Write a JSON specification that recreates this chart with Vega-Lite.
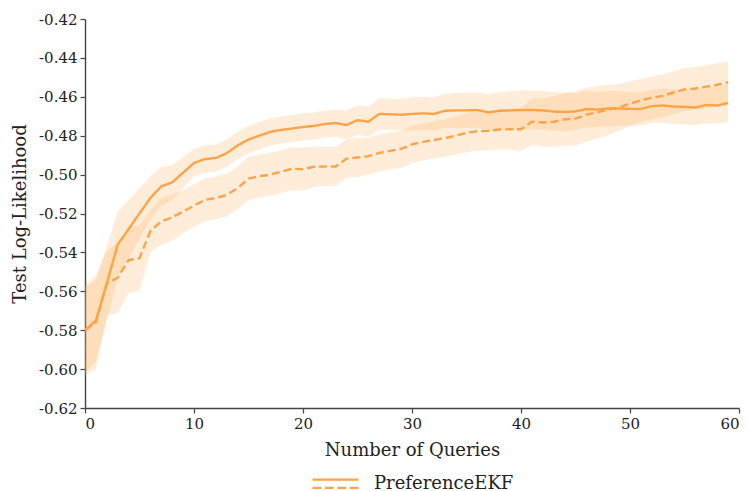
{
  "$schema": "https://vega.github.io/schema/vega-lite/v6.json",
  "width": 654,
  "height": 389,
  "autosize": {"type": "none"},
  "padding": {"left": 85, "top": 19, "right": 8, "bottom": 83},
  "background": "white",
  "config": {
    "view": {"stroke": null},
    "font": "DejaVu Serif",
    "axis": {
      "grid": false,
      "domainColor": "#444444",
      "domainWidth": 1.4,
      "tickColor": "#444444",
      "tickSize": 5,
      "tickWidth": 1.2,
      "labelFont": "DejaVu Serif",
      "labelFontSize": 15,
      "labelColor": "#222222",
      "titleFont": "DejaVu Serif",
      "titleFontSize": 18,
      "titleFontWeight": "normal",
      "titleColor": "#222222",
      "labelPadding": 3,
      "labelOverlap": false
    },
    "legend": {
      "labelFont": "DejaVu Serif",
      "labelFontSize": 18,
      "labelColor": "#222222"
    }
  },
  "data": {
    "values": [
      {"q":0,"s":"solid","m":-0.580,"lo":-0.602,"hi":-0.558},
      {"q":1,"s":"solid","m":-0.575,"lo":-0.596,"hi":-0.554},
      {"q":2,"s":"solid","m":-0.556,"lo":-0.575,"hi":-0.537},
      {"q":3,"s":"solid","m":-0.536,"lo":-0.553,"hi":-0.519},
      {"q":4,"s":"solid","m":-0.528,"lo":-0.543,"hi":-0.513},
      {"q":5,"s":"solid","m":-0.520,"lo":-0.533,"hi":-0.507},
      {"q":6,"s":"solid","m":-0.512,"lo":-0.523,"hi":-0.501},
      {"q":7,"s":"solid","m":-0.506,"lo":-0.516,"hi":-0.496},
      {"q":8,"s":"solid","m":-0.504,"lo":-0.513,"hi":-0.495},
      {"q":9,"s":"solid","m":-0.499,"lo":-0.507,"hi":-0.491},
      {"q":10,"s":"solid","m":-0.494,"lo":-0.501,"hi":-0.487},
      {"q":11,"s":"solid","m":-0.492,"lo":-0.499,"hi":-0.485},
      {"q":12,"s":"solid","m":-0.4915,"lo":-0.4985,"hi":-0.4845},
      {"q":13,"s":"solid","m":-0.489,"lo":-0.496,"hi":-0.482},
      {"q":14,"s":"solid","m":-0.485,"lo":-0.492,"hi":-0.478},
      {"q":15,"s":"solid","m":-0.482,"lo":-0.489,"hi":-0.475},
      {"q":16,"s":"solid","m":-0.480,"lo":-0.487,"hi":-0.473},
      {"q":17,"s":"solid","m":-0.478,"lo":-0.485,"hi":-0.471},
      {"q":18,"s":"solid","m":-0.477,"lo":-0.484,"hi":-0.470},
      {"q":19,"s":"solid","m":-0.4763,"lo":-0.4833,"hi":-0.4693},
      {"q":20,"s":"solid","m":-0.4755,"lo":-0.4825,"hi":-0.4685},
      {"q":21,"s":"solid","m":-0.475,"lo":-0.482,"hi":-0.468},
      {"q":22,"s":"solid","m":-0.474,"lo":-0.481,"hi":-0.467},
      {"q":23,"s":"solid","m":-0.4735,"lo":-0.4805,"hi":-0.4665},
      {"q":24,"s":"solid","m":-0.4745,"lo":-0.482,"hi":-0.467},
      {"q":25,"s":"solid","m":-0.472,"lo":-0.4795,"hi":-0.4645},
      {"q":26,"s":"solid","m":-0.4728,"lo":-0.4806,"hi":-0.465},
      {"q":27,"s":"solid","m":-0.4688,"lo":-0.4768,"hi":-0.4608},
      {"q":28,"s":"solid","m":-0.469,"lo":-0.477,"hi":-0.461},
      {"q":29,"s":"solid","m":-0.4692,"lo":-0.4772,"hi":-0.4612},
      {"q":30,"s":"solid","m":-0.4688,"lo":-0.4773,"hi":-0.4603},
      {"q":31,"s":"solid","m":-0.4685,"lo":-0.477,"hi":-0.46},
      {"q":32,"s":"solid","m":-0.4688,"lo":-0.4773,"hi":-0.4603},
      {"q":33,"s":"solid","m":-0.4672,"lo":-0.476,"hi":-0.4584},
      {"q":34,"s":"solid","m":-0.467,"lo":-0.476,"hi":-0.458},
      {"q":35,"s":"solid","m":-0.467,"lo":-0.476,"hi":-0.458},
      {"q":36,"s":"solid","m":-0.4668,"lo":-0.4758,"hi":-0.4578},
      {"q":37,"s":"solid","m":-0.468,"lo":-0.4775,"hi":-0.4585},
      {"q":38,"s":"solid","m":-0.4672,"lo":-0.4767,"hi":-0.4577},
      {"q":39,"s":"solid","m":-0.467,"lo":-0.4768,"hi":-0.4572},
      {"q":40,"s":"solid","m":-0.4668,"lo":-0.4768,"hi":-0.4568},
      {"q":41,"s":"solid","m":-0.4668,"lo":-0.4768,"hi":-0.4568},
      {"q":42,"s":"solid","m":-0.467,"lo":-0.477,"hi":-0.457},
      {"q":43,"s":"solid","m":-0.4676,"lo":-0.4776,"hi":-0.4576},
      {"q":44,"s":"solid","m":-0.4678,"lo":-0.4778,"hi":-0.4578},
      {"q":45,"s":"solid","m":-0.4675,"lo":-0.477,"hi":-0.458},
      {"q":46,"s":"solid","m":-0.4663,"lo":-0.4758,"hi":-0.4568},
      {"q":47,"s":"solid","m":-0.4665,"lo":-0.4755,"hi":-0.4575},
      {"q":48,"s":"solid","m":-0.466,"lo":-0.475,"hi":-0.457},
      {"q":49,"s":"solid","m":-0.466,"lo":-0.475,"hi":-0.457},
      {"q":50,"s":"solid","m":-0.4662,"lo":-0.4747,"hi":-0.4577},
      {"q":51,"s":"solid","m":-0.4662,"lo":-0.4747,"hi":-0.4577},
      {"q":52,"s":"solid","m":-0.4648,"lo":-0.4733,"hi":-0.4563},
      {"q":53,"s":"solid","m":-0.4645,"lo":-0.4733,"hi":-0.4557},
      {"q":54,"s":"solid","m":-0.465,"lo":-0.474,"hi":-0.456},
      {"q":55,"s":"solid","m":-0.4652,"lo":-0.4742,"hi":-0.4562},
      {"q":56,"s":"solid","m":-0.4655,"lo":-0.4745,"hi":-0.4565},
      {"q":57,"s":"solid","m":-0.4642,"lo":-0.4737,"hi":-0.4547},
      {"q":58,"s":"solid","m":-0.4645,"lo":-0.474,"hi":-0.455},
      {"q":59,"s":"solid","m":-0.4632,"lo":-0.473,"hi":-0.4534},
      {"q":0,"s":"dashed","m":-0.580,"lo":-0.603,"hi":-0.557},
      {"q":1,"s":"dashed","m":-0.576,"lo":-0.600,"hi":-0.552},
      {"q":2,"s":"dashed","m":-0.556,"lo":-0.573,"hi":-0.539},
      {"q":3,"s":"dashed","m":-0.553,"lo":-0.571,"hi":-0.535},
      {"q":4,"s":"dashed","m":-0.544,"lo":-0.561,"hi":-0.527},
      {"q":5,"s":"dashed","m":-0.543,"lo":-0.560,"hi":-0.526},
      {"q":6,"s":"dashed","m":-0.529,"lo":-0.540,"hi":-0.518},
      {"q":7,"s":"dashed","m":-0.524,"lo":-0.536,"hi":-0.512},
      {"q":8,"s":"dashed","m":-0.522,"lo":-0.534,"hi":-0.510},
      {"q":9,"s":"dashed","m":-0.519,"lo":-0.530,"hi":-0.508},
      {"q":10,"s":"dashed","m":-0.516,"lo":-0.527,"hi":-0.505},
      {"q":11,"s":"dashed","m":-0.513,"lo":-0.524,"hi":-0.502},
      {"q":12,"s":"dashed","m":-0.512,"lo":-0.523,"hi":-0.501},
      {"q":13,"s":"dashed","m":-0.5105,"lo":-0.5215,"hi":-0.4995},
      {"q":14,"s":"dashed","m":-0.507,"lo":-0.518,"hi":-0.496},
      {"q":15,"s":"dashed","m":-0.502,"lo":-0.513,"hi":-0.491},
      {"q":16,"s":"dashed","m":-0.5008,"lo":-0.5118,"hi":-0.4898},
      {"q":17,"s":"dashed","m":-0.500,"lo":-0.511,"hi":-0.489},
      {"q":18,"s":"dashed","m":-0.4985,"lo":-0.5095,"hi":-0.4875},
      {"q":19,"s":"dashed","m":-0.497,"lo":-0.508,"hi":-0.486},
      {"q":20,"s":"dashed","m":-0.4972,"lo":-0.5082,"hi":-0.4862},
      {"q":21,"s":"dashed","m":-0.496,"lo":-0.5065,"hi":-0.4855},
      {"q":22,"s":"dashed","m":-0.4958,"lo":-0.5058,"hi":-0.4858},
      {"q":23,"s":"dashed","m":-0.4958,"lo":-0.5058,"hi":-0.4858},
      {"q":24,"s":"dashed","m":-0.4918,"lo":-0.5018,"hi":-0.4818},
      {"q":25,"s":"dashed","m":-0.4912,"lo":-0.5012,"hi":-0.4812},
      {"q":26,"s":"dashed","m":-0.4905,"lo":-0.5,"hi":-0.481},
      {"q":27,"s":"dashed","m":-0.4888,"lo":-0.4983,"hi":-0.4793},
      {"q":28,"s":"dashed","m":-0.4878,"lo":-0.4973,"hi":-0.4783},
      {"q":29,"s":"dashed","m":-0.4868,"lo":-0.4963,"hi":-0.4773},
      {"q":30,"s":"dashed","m":-0.4845,"lo":-0.494,"hi":-0.475},
      {"q":31,"s":"dashed","m":-0.4832,"lo":-0.4927,"hi":-0.4737},
      {"q":32,"s":"dashed","m":-0.4822,"lo":-0.4917,"hi":-0.4727},
      {"q":33,"s":"dashed","m":-0.4813,"lo":-0.4908,"hi":-0.4718},
      {"q":34,"s":"dashed","m":-0.480,"lo":-0.4898,"hi":-0.4702},
      {"q":35,"s":"dashed","m":-0.4785,"lo":-0.4885,"hi":-0.4685},
      {"q":36,"s":"dashed","m":-0.4777,"lo":-0.4877,"hi":-0.4677},
      {"q":37,"s":"dashed","m":-0.4775,"lo":-0.4875,"hi":-0.4675},
      {"q":38,"s":"dashed","m":-0.4768,"lo":-0.487,"hi":-0.4666},
      {"q":39,"s":"dashed","m":-0.4767,"lo":-0.4872,"hi":-0.4662},
      {"q":40,"s":"dashed","m":-0.4767,"lo":-0.4877,"hi":-0.4657},
      {"q":41,"s":"dashed","m":-0.4728,"lo":-0.4848,"hi":-0.4608},
      {"q":42,"s":"dashed","m":-0.4732,"lo":-0.4857,"hi":-0.4607},
      {"q":43,"s":"dashed","m":-0.4728,"lo":-0.4858,"hi":-0.4598},
      {"q":44,"s":"dashed","m":-0.4716,"lo":-0.4851,"hi":-0.4581},
      {"q":45,"s":"dashed","m":-0.4712,"lo":-0.4852,"hi":-0.4572},
      {"q":46,"s":"dashed","m":-0.4692,"lo":-0.483,"hi":-0.4554},
      {"q":47,"s":"dashed","m":-0.468,"lo":-0.4815,"hi":-0.4545},
      {"q":48,"s":"dashed","m":-0.4666,"lo":-0.4796,"hi":-0.4536},
      {"q":49,"s":"dashed","m":-0.4655,"lo":-0.4775,"hi":-0.4535},
      {"q":50,"s":"dashed","m":-0.4635,"lo":-0.475,"hi":-0.452},
      {"q":51,"s":"dashed","m":-0.4618,"lo":-0.4728,"hi":-0.4508},
      {"q":52,"s":"dashed","m":-0.4605,"lo":-0.4715,"hi":-0.4495},
      {"q":53,"s":"dashed","m":-0.4595,"lo":-0.4705,"hi":-0.4485},
      {"q":54,"s":"dashed","m":-0.4578,"lo":-0.4688,"hi":-0.4468},
      {"q":55,"s":"dashed","m":-0.4562,"lo":-0.4672,"hi":-0.4452},
      {"q":56,"s":"dashed","m":-0.4557,"lo":-0.4667,"hi":-0.4447},
      {"q":57,"s":"dashed","m":-0.4548,"lo":-0.4658,"hi":-0.4438},
      {"q":58,"s":"dashed","m":-0.4538,"lo":-0.4648,"hi":-0.4428},
      {"q":59,"s":"dashed","m":-0.4525,"lo":-0.4633,"hi":-0.4417}
    ]
  },
  "encoding": {
    "x": {
      "field": "q",
      "type": "quantitative",
      "scale": {"domain": [0, 60], "nice": false, "zero": false},
      "axis": {"values": [0, 10, 20, 30, 40, 50, 60], "tickCount": 20, "title": "Number of Queries", "titlePadding": 10}
    }
  },
  "layer": [
    {
      "mark": {"type": "area", "color": "#ffa347", "opacity": 0.2},
      "encoding": {
        "y": {
          "field": "lo",
          "type": "quantitative",
          "scale": {"domain": [-0.62, -0.42], "nice": false, "zero": false},
          "axis": {
            "tickCount": 20,
            "values": [-0.62, -0.6, -0.58, -0.56, -0.54, -0.52, -0.5, -0.48, -0.46, -0.44, -0.42],
            "labelExpr": "replace(format(datum.value, '.2f'), '\u2212', '-')",
            "labelOverlap": false,
            "title": "Test Log-Likelihood",
            "titlePadding": 9
          }
        },
        "y2": {"field": "hi"},
        "detail": {"field": "s", "type": "nominal"}
      }
    },
    {
      "mark": {"type": "line", "strokeWidth": 2.4},
      "encoding": {
        "y": {"field": "m", "type": "quantitative"},
        "detail": {"field": "s", "type": "nominal"},
        "strokeDash": {
          "field": "s",
          "type": "nominal",
          "scale": {"domain": ["solid", "dashed"], "range": [[1, 0], [8, 4]]},
          "legend": null
        },
        "color": {
          "datum": "PreferenceEKF",
          "type": "nominal",
          "scale": {"range": ["#ffa347"]},
          "legend": {
            "title": null,
            "orient": "none",
            "legendX": 226,
            "legendY": 440,
            "symbolType": "M-1,-0.17H1M-1,0.19H-0.62M-0.46,0.19H-0.08M0.08,0.19H0.46M0.62,0.19H1",
            "symbolSize": 2116,
            "symbolStrokeWidth": 2.4,
            "symbolFillColor": "transparent",
            "labelOffset": 14
          }
        }
      }
    }
  ]
}
